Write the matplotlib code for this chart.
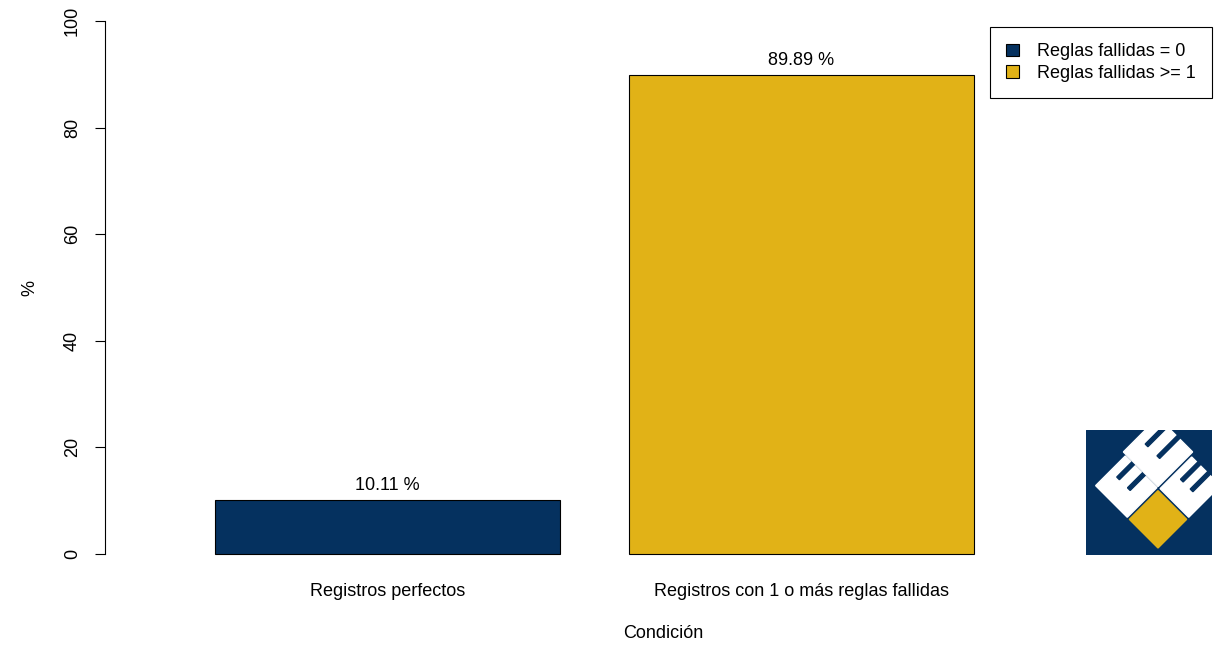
import numpy as np
import matplotlib
matplotlib.use("Agg")
import matplotlib.pyplot as plt
from matplotlib.patches import Patch, Polygon, Rectangle

plt.rcParams['font.family'] = ['Liberation Sans', 'DejaVu Sans']

# datos
condiciones = ["Registros perfectos", "Registros con 1 o más reglas fallidas"]
porcentajes = [10.11, 89.89]
leyenda = ["Reglas fallidas = 0", "Reglas fallidas >= 1"]
colores = ["#05315F", "#E1B217"]
yticks = [0, 20, 40, 60, 80, 100]

W, H = 1223, 645
fig = plt.figure(figsize=(W / 100, H / 100), dpi=100)

# region de dibujo (pixeles -> fraccion de figura)
x0, x1, ytop, ybot = 105, 1084, 0, 575
aw, ah = x1 - x0, ybot - ytop
ax = fig.add_axes([x0 / W, 1 - ybot / H, aw / W, ah / H])

pos = 0.2 + np.arange(len(porcentajes)) * 1.2 + 0.5
ax.bar(pos, porcentajes, width=1.0, color=colores, edgecolor="black", linewidth=0.8)
for xp, v in zip(pos, porcentajes):
    ax.text(xp, v + 1.1, f"{v:.2f} %", ha="center", va="bottom", fontsize=13)

ax.set_xlim(-0.119, 2.719)
ax.set_ylim(-4, 104)

for s in ["top", "right", "bottom"]:
    ax.spines[s].set_visible(False)
ax.spines["left"].set_bounds(0, 100)
ax.spines["left"].set_linewidth(0.8)
ax.set_yticks(yticks)
ax.set_yticklabels([str(t) for t in yticks], rotation=90, va="center", fontsize=13)
ax.tick_params(axis="y", length=7.2, width=0.8, pad=10)
ax.set_xticks(pos)
ax.set_xticklabels(condiciones, fontsize=13)
ax.tick_params(axis="x", length=0, pad=6)
ax.set_ylabel("%", fontsize=13, va="center", ha="center")
ax.set_xlabel("Condición", fontsize=13, va="center", ha="center")
# titulos de ejes: centro en (30, 288) y (663, 633) px
ax.yaxis.set_label_coords((30 - x0) / aw, (ybot - 288) / ah)
ax.xaxis.set_label_coords((663 - x0) / aw, (ybot - 633) / ah)

# leyenda
handles = [Patch(facecolor=c, edgecolor="black", linewidth=0.8) for c in colores]
leg = fig.legend(handles, leyenda, loc="upper left",
                 bbox_to_anchor=(990 / W, 1 - 27 / H), fontsize=13,
                 frameon=True, fancybox=False, framealpha=1, edgecolor="black",
                 handlelength=0.7, handleheight=0.7, handletextpad=1.0,
                 borderpad=0.9, labelspacing=0.25, borderaxespad=0)
leg.get_frame().set_linewidth(0.8)

# logo
lx0, ly0, lx1, ly1 = 1086, 430, 1212, 555
lax = fig.add_axes([lx0 / W, 1 - ly1 / H, (lx1 - lx0) / W, (ly1 - ly0) / H])
lax.set_xlim(lx0, lx1)
lax.set_ylim(ly1, ly0)
lax.axis("off")
lax.add_patch(Rectangle((lx0, ly0), lx1 - lx0, ly1 - ly0, color="#05315F"))

ox, oy, s = 1158, 548, 42.0
ua = np.array([1, -1]) / np.sqrt(2)
ub = np.array([-1, -1]) / np.sqrt(2)


def rombo(p0, p1, q0, q1):
    pts = [(p0, q0), (p1, q0), (p1, q1), (p0, q1)]
    return [np.array([ox, oy]) + s * (p * ua + q * ub) for p, q in pts]


g = 0.07
lax.add_patch(Polygon(rombo(0, 1 - g / 2, 0, 1 - g / 2), color="#E1B217", clip_on=True))
bloques = [(0, 1, 1 + g / 2, 2.1), (1 + g / 2, 2.2, 1 + g / 2, 2.2), (1 + g / 2, 2.1, 0, 1 - g / 2)]
for p0, p1, q0, q1 in bloques:
    lax.add_patch(Polygon(rombo(p0, p1, q0, q1), color="white", clip_on=True))
    # ranuras de la E
    for f in (0.42, 0.76):
        qc = q0 + f * (q1 - q0)
        lax.add_patch(Polygon(rombo(p0 + 0.5, p1 + 0.1, qc - 0.045, qc + 0.045),
                              color="#05315F", clip_on=True))

fig.savefig("out.png", dpi=100)
